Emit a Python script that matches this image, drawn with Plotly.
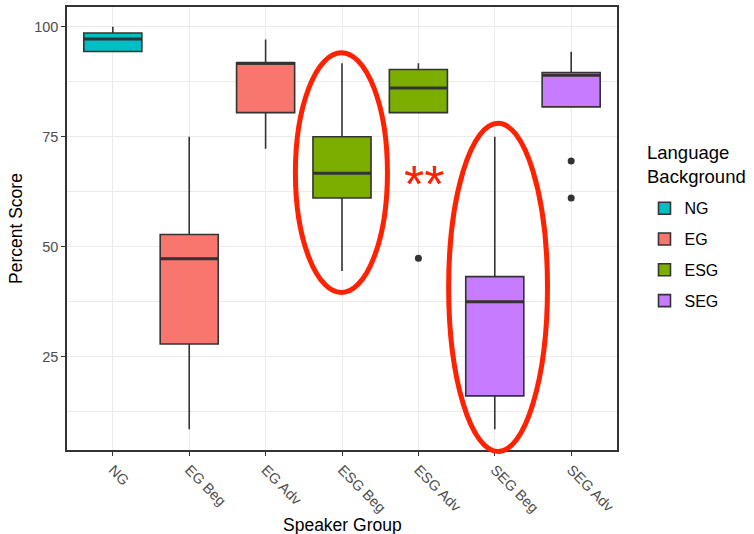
import plotly.graph_objects as go

categories = ["NG", "EG Beg", "EG Adv", "ESG Beg", "ESG Adv", "SEG Beg", "SEG Adv"]
groups = ["NG", "EG", "EG", "ESG", "ESG", "SEG", "SEG"]
lower = [94.4, 8.5, 72.3, 44.5, 80.5, 8.5, 81.8]
q1 = [94.4, 27.9, 80.5, 61.1, 80.5, 16.1, 81.8]
median = [97.2, 47.3, 91.7, 66.7, 86.1, 37.5, 89.0]
q3 = [98.6, 52.8, 91.8, 75.0, 90.3, 43.2, 89.6]
upper = [100.0, 75.0, 97.1, 91.7, 91.7, 75.0, 94.3]
outlier_x = ["ESG Adv", "SEG Adv", "SEG Adv"]
outlier_y = [47.4, 69.5, 61.1]

legend_order = ["NG", "EG", "ESG", "SEG"]
colors = {"NG": "#00BFC4", "EG": "#F8766D", "ESG": "#7CAE00", "SEG": "#C77CFF"}

FONT = "Liberation Sans, Arial, Helvetica, sans-serif"
BOX_W = 0.76
Y_RANGE = [3.8, 104.5]

fig = go.Figure()
for g in legend_order:
    idx = [i for i, gg in enumerate(groups) if gg == g]
    fig.add_trace(go.Box(
        name=g,
        legendgroup=g,
        x=[categories[i] for i in idx],
        q1=[q1[i] for i in idx],
        median=[median[i] for i in idx],
        q3=[q3[i] for i in idx],
        lowerfence=[lower[i] for i in idx],
        upperfence=[upper[i] for i in idx],
        fillcolor=colors[g],
        line=dict(color="#333333", width=1.6),
        whiskerwidth=0,
        width=BOX_W,
        boxpoints=False,
        hoverinfo="skip",
    ))

fig.add_trace(go.Scatter(
    x=outlier_x, y=outlier_y, mode="markers",
    marker=dict(color="#333333", size=7),
    showlegend=False, hoverinfo="skip",
))

# thicker median lines (ggplot style)
for i, m in enumerate(median):
    fig.add_shape(type="line", xref="x", yref="y",
                  x0=i - BOX_W / 2, x1=i + BOX_W / 2, y0=m, y1=m,
                  line=dict(color="#333333", width=3), layer="above")


def to_paper(v):
    return (v - Y_RANGE[0]) / (Y_RANGE[1] - Y_RANGE[0])


# highlight ellipses (paper y so they are not clipped at the panel edge)
fig.add_shape(type="circle", xref="x", yref="paper",
              x0=2.39, x1=3.595, y0=to_paper(39.6), y1=to_paper(94.1),
              line=dict(color="#FF2200", width=5), layer="above")
fig.add_shape(type="circle", xref="x", yref="paper",
              x0=4.396, x1=5.69, y0=to_paper(3.45), y1=to_paper(78.07),
              line=dict(color="#FF2200", width=5), layer="above")

fig.add_annotation(x=4.075, y=65.8, text="**", showarrow=False,
                   font=dict(family=FONT, size=52, color="#FF2200"),
                   xref="x", yref="y", yshift=-6.5)

# axis titles
fig.add_annotation(text="Speaker Group", xref="paper", yref="paper",
                   x=0.5, y=0, yanchor="middle", yshift=-75, showarrow=False,
                   font=dict(size=17.5, color="#000000"))
fig.add_annotation(text="Percent Score", xref="paper", yref="paper",
                   x=0, y=0.5, xanchor="center", yanchor="middle",
                   xshift=-51.5, textangle=-90, showarrow=False,
                   font=dict(size=17.5, color="#000000"))

# legend title
fig.add_annotation(text="Language<br>Background", xref="paper", yref="paper",
                   x=1.051, y=0.699, xanchor="left", yanchor="top", align="left",
                   showarrow=False, font=dict(size=18.5, color="#000000"))

fig.update_layout(
    width=754, height=534,
    margin=dict(l=67, r=137, t=7, b=84),
    paper_bgcolor="white", plot_bgcolor="white",
    boxmode="overlay",
    font=dict(family=FONT, color="#000000"),
    legend=dict(
        font=dict(size=16, color="#000000"),
        x=1.05, xanchor="left", y=0.584, yanchor="top",
        tracegroupgap=7,
        bgcolor="rgba(0,0,0,0)",
    ),
    xaxis=dict(
        categoryorder="array", categoryarray=categories,
        range=[-0.6, 6.6],
        automargin=False,
        showgrid=True, gridcolor="#EBEBEB", gridwidth=1,
        zeroline=False,
        ticks="outside", ticklen=4, tickcolor="#333333", tickwidth=1,
        tickangle=45,
        tickfont=dict(size=14.5, color="#4D4D4D"),
        showline=True, linecolor="#333333", linewidth=1.5, mirror=True,
    ),
    yaxis=dict(
        range=Y_RANGE,
        automargin=False,
        tickvals=[25, 50, 75, 100],
        showgrid=True, gridcolor="#EBEBEB", gridwidth=1.2,
        minor=dict(tickvals=[12.5, 37.5, 62.5, 87.5], showgrid=True,
                   gridcolor="#EBEBEB", gridwidth=0.6, ticks=""),
        zeroline=False,
        ticks="outside", ticklen=4, tickcolor="#333333", tickwidth=1,
        tickfont=dict(size=14.5, color="#4D4D4D"),
        showline=True, linecolor="#333333", linewidth=1.5, mirror=True,
    ),
)

fig.write_html("out.html", config={"displayModeBar": False},
               post_script="document.body.style.margin='0';document.body.style.overflow='hidden';")
